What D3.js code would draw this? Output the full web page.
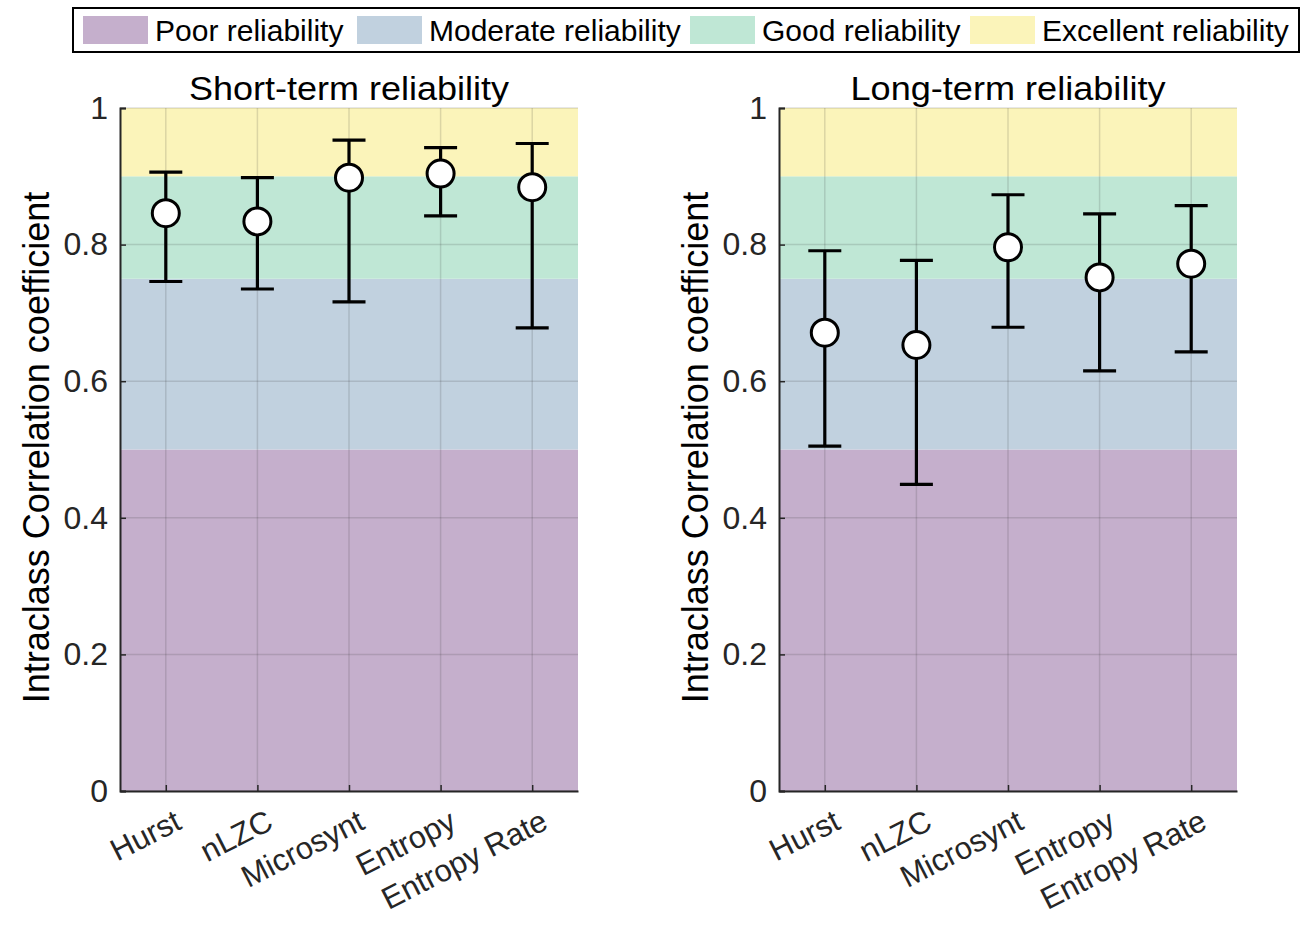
<!DOCTYPE html>
<html><head><meta charset="utf-8">
<script src="https://cdn.jsdelivr.net/npm/d3@7"></script>
<style>body{margin:0;background:#fff;} svg{display:block;font-family:Arial,"Liberation Sans",sans-serif;}</style>
</head><body><svg id="c" width="1305" height="925"></svg>
<script>
const categories = ["Hurst","nLZC","Microsynt","Entropy","Entropy Rate"];
const shortMean  = [0.846,0.834,0.898,0.904,0.884];
const shortLow   = [0.746,0.735,0.716,0.842,0.678];
const shortHigh  = [0.906,0.898,0.953,0.942,0.948];
const longMean   = [0.671,0.653,0.796,0.752,0.772];
const longLow    = [0.505,0.449,0.679,0.615,0.643];
const longHigh   = [0.791,0.777,0.873,0.845,0.857];
const bandNames  = ["Poor reliability","Moderate reliability","Good reliability","Excellent reliability"];
const bandLo     = [0,0.5,0.75,0.9];
const bandHi     = [0.5,0.75,0.9,1];
const bandColors = ["#c5afcc","#c1d1df","#bfe7d5","#fbf4ba"];
const yTicks     = [0,0.2,0.4,0.6,0.8,1];
const titles     = ["Short-term reliability","Long-term reliability"];

const svg = d3.select("#c");
const axc = "#262626";
const FF = "Arial,'Liberation Sans',sans-serif";

function panel(x0, x1, title, mean, lo, hi){
  const y = d3.scaleLinear().domain([0,1]).range([791,108]);
  const x = d3.scaleLinear().domain([0.5,5.5]).range([x0,x1]);
  const g = svg.append("g");
  g.selectAll("rect.band").data(bandLo).join("rect")
    .attr("x",x0).attr("width",x1-x0)
    .attr("y",(d,i)=>y(bandHi[i])).attr("height",(d,i)=>y(d)-y(bandHi[i]))
    .attr("fill",(d,i)=>bandColors[i]);
  g.selectAll("line.gy").data(yTicks).join("line")
    .attr("x1",x0).attr("x2",x1).attr("y1",d=>y(d)).attr("y2",d=>y(d))
    .attr("stroke","#262626").attr("stroke-opacity",0.15).attr("stroke-width",1.5);
  g.selectAll("line.gx").data(categories).join("line")
    .attr("x1",(d,i)=>x(i+1)).attr("x2",(d,i)=>x(i+1)).attr("y1",y(0)).attr("y2",y(1))
    .attr("stroke","#262626").attr("stroke-opacity",0.15).attr("stroke-width",1.5);
  const ya = d3.axisLeft(y).tickValues(yTicks).tickFormat(d=>d===0||d===1?d3.format("d")(d):d3.format(".1f")(d)).tickSize(-6).tickPadding(12);
  const yg = g.append("g").attr("transform",`translate(${x0},0)`).call(ya);
  yg.select(".domain").attr("stroke",axc).attr("stroke-width",2);
  yg.selectAll(".tick line").attr("stroke",axc).attr("stroke-width",1.5);
  yg.selectAll(".tick text").attr("font-size",32).attr("fill",axc).attr("font-family",FF);
  const xa = d3.axisBottom(x).tickValues([1,2,3,4,5]).tickFormat(d=>categories[d-1]).tickSize(-6).tickSizeOuter(0);
  const xg = g.append("g").attr("transform",`translate(0,${y(0)})`).call(xa);
  xg.select(".domain").attr("stroke",axc).attr("stroke-width",2);
  xg.selectAll(".tick line").attr("stroke",axc).attr("stroke-width",1.5);
  xg.selectAll(".tick text").attr("font-size",31).attr("fill",axc)
    .attr("font-family",FF)
    .attr("text-anchor","end").attr("dy",null).attr("y",0)
    .attr("transform","translate(17,37) rotate(-27)");
  const eb = g.append("g");
  const cw = 16.5;
  categories.forEach((c,i)=>{
    const cx = x(i+1);
    eb.append("line").attr("x1",cx).attr("x2",cx).attr("y1",y(lo[i])).attr("y2",y(hi[i])).attr("stroke","#000").attr("stroke-width",3.2);
    eb.append("line").attr("x1",cx-cw).attr("x2",cx+cw).attr("y1",y(lo[i])).attr("y2",y(lo[i])).attr("stroke","#000").attr("stroke-width",3.2);
    eb.append("line").attr("x1",cx-cw).attr("x2",cx+cw).attr("y1",y(hi[i])).attr("y2",y(hi[i])).attr("stroke","#000").attr("stroke-width",3.2);
  });
  eb.selectAll("circle").data(mean).join("circle")
    .attr("cx",(d,i)=>x(i+1)).attr("cy",d=>y(d)).attr("r",13.5)
    .attr("fill","#fff").attr("stroke","#000").attr("stroke-width",3);
  g.append("text").attr("x",(x0+x1)/2).attr("y",100).attr("text-anchor","middle")
    .attr("font-size",34).attr("fill","#000").attr("textLength",title.length>21?320:315)
    .attr("lengthAdjust","spacingAndGlyphs").text(title);
  g.append("text").attr("transform",`translate(${x0-71},${y(0.5)-2}) rotate(-90)`)
    .attr("text-anchor","middle").attr("font-size",36).attr("fill","#000")
    .text("Intraclass Correlation coefficient");
}
panel(120,578,titles[0],shortMean,shortLow,shortHigh);
panel(779,1237,titles[1],longMean,longLow,longHigh);

const lg = svg.append("g");
lg.append("rect").attr("x",73).attr("y",8).attr("width",1226).attr("height",44)
  .attr("fill","#fff").attr("stroke","#000").attr("stroke-width",2);
const legX = [83,357,690,970];
bandNames.forEach((n,i)=>{
  lg.append("rect").attr("x",legX[i]).attr("y",16).attr("width",65).attr("height",28).attr("fill",bandColors[i]);
  lg.append("text").attr("x",legX[i]+72).attr("y",41).attr("font-size",30).attr("fill","#000").text(n);
});
</script></body></html>
